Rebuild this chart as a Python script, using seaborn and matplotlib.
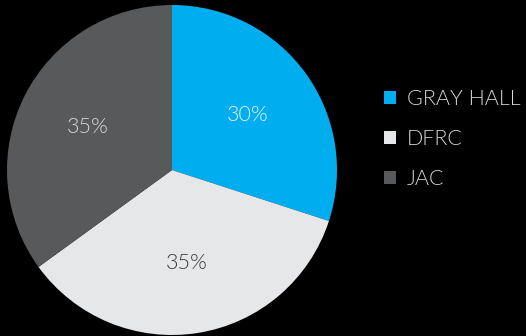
import matplotlib
matplotlib.use("Agg")
import matplotlib.pyplot as plt
import seaborn as sns

categories = ["GRAY HALL", "DFRC", "JAC"]
shares = [30, 35, 35]
palette = ["#00AEEF", "#E6E7E8", "#58595B"]
pct_colors = ["#E6F6FD", "#3A3A3C", "#D9D9D9"]

sns.set_theme(style="white")
plt.rcParams["font.family"] = ["Lato", "DejaVu Sans"]

fig = plt.figure(figsize=(5.26, 3.36), dpi=100, facecolor="black")
ax = fig.add_axes([7 / 526, 1 / 336, 330 / 526, 330 / 336])
ax.set_facecolor("black")

colors = sns.color_palette(palette)
wedges, texts, autotexts = ax.pie(
    shares,
    colors=colors,
    startangle=90,
    counterclock=False,
    autopct="%d%%",
    pctdistance=0.57,
    wedgeprops=dict(linewidth=0),
    textprops=dict(fontsize=15.5, fontweight=300),
)
for t, c in zip(autotexts, pct_colors):
    t.set_color(c)
ax.set_aspect("equal")
ax.set_xlim(-1, 1)
ax.set_ylim(-1, 1)

leg = fig.legend(
    wedges,
    categories,
    loc="center left",
    bbox_to_anchor=(365 / 526, 1 - 139 / 336),
    frameon=False,
    handlelength=0.55,
    handleheight=0.55,
    handletextpad=0.5,
    labelspacing=0.92,
    prop=dict(weight=300, size=15.5),
)
for t in leg.get_texts():
    t.set_color("#D9D9D9")

fig.savefig("out.png", dpi=100, facecolor="black")
